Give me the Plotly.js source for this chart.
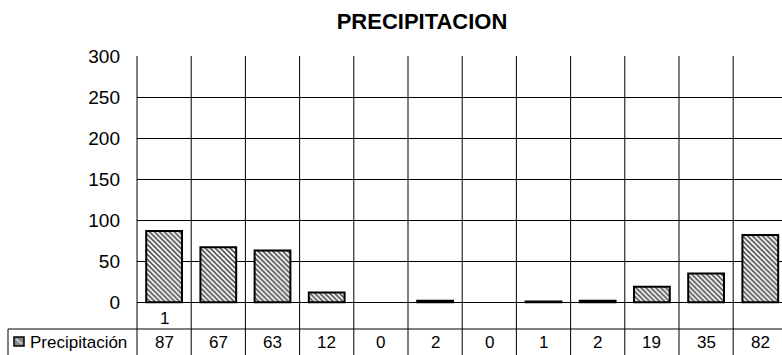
<!DOCTYPE html>
<html>
<head>
<meta charset="utf-8">
<script src="https://cdn.plot.ly/plotly-3.0.1.min.js"></script>
<style>
  html, body { margin: 0; padding: 0; background: #fff; overflow: hidden; }
  #chart { width: 782px; height: 355px; }
</style>
</head>
<body>
<div id="chart"></div>
<script>
// Monthly precipitation, periods 1..12
const periods = [1, 2, 3, 4, 5, 6, 7, 8, 9, 10, 11, 12];
const precipitation = [87, 67, 63, 12, 0, 2, 0, 1, 2, 19, 35, 82];
const seriesName = 'Precipitación';
const chartTitle = 'PRECIPITACION';
const yTicks = [0, 50, 100, 150, 200, 250, 300];
const axisLabelPeriods = [1];
const axisLabelTexts = ['1'];

// page geometry (px)
const W = 782, H = 355;
const ML = 137, MR = 0, MT = 56, MB = 26;
const PW = W - ML - MR, PH = H - MT - MB;
const FONT = 'Arial, "Liberation Sans", sans-serif';

// pixel -> paper helpers for the table frame
const pxX = px => (px - ML) / PW;
const pxY = py => (H - MB - py) / PH;

const tableLeft = pxX(8);
const tableBottom = pxY(H + 10);

const shapes = [];
const line = { color: '#000', width: 1 };

// category separators running down through the data table
for (let i = 0; i < periods.length - 1; i++) {
  shapes.push({ type: 'line', xref: 'x', yref: 'paper',
    x0: periods[i] + 0.5, x1: periods[i] + 0.5, y0: tableBottom, y1: 1, line });
}
// left frame of the plot and of the table
shapes.push({ type: 'line', xref: 'paper', yref: 'paper', x0: 0, x1: 0, y0: tableBottom, y1: 1, line });
shapes.push({ type: 'line', xref: 'paper', yref: 'paper', x0: tableLeft, x1: 1, y0: 0, y1: 0, line });
shapes.push({ type: 'line', xref: 'paper', yref: 'paper', x0: tableLeft, x1: tableLeft, y0: 0, y1: tableBottom, line });
// series key in the table header cell
shapes.push({ type: 'rect', xref: 'paper', yref: 'paper',
  x0: pxX(14), x1: pxX(24), y0: pxY(346), y1: pxY(337),
  fillcolor: '#8a8a8a', line: { color: '#000', width: 1.5 } });
shapes.push({ type: 'line', xref: 'paper', yref: 'paper',
  x0: pxX(16), x1: pxX(22), y0: pxY(339), y1: pxY(344),
  line: { color: '#e0e0e0', width: 1.2 } });

const annotations = [];
// data table values
precipitation.forEach((v, i) => {
  annotations.push({ xref: 'x', yref: 'paper', x: periods[i], y: 0, yshift: -13,
    text: String(v), showarrow: false, xanchor: 'center', yanchor: 'middle',
    font: { family: FONT, size: 17, color: '#000' } });
});
// row header
annotations.push({ xref: 'paper', yref: 'paper', x: pxX(28), y: 0, yshift: -13,
  text: seriesName, showarrow: false, xanchor: 'left', yanchor: 'middle',
  font: { family: FONT, size: 17, color: '#000' } });
// category axis label
axisLabelPeriods.forEach((p, i) => {
  annotations.push({ xref: 'x', yref: 'y', x: p, y: 0, yshift: -5,
    text: axisLabelTexts[i], showarrow: false, xanchor: 'center', yanchor: 'top',
    font: { family: FONT, size: 17, color: '#000' } });
});

const trace = {
  type: 'bar',
  x: periods,
  y: precipitation,
  name: seriesName,
  width: 0.66,
  marker: {
    color: '#fff',
    pattern: { shape: '\\', fgcolor: '#4a4a4a', bgcolor: '#fff', size: 3.5, solidity: 0.45 },
    // empty months get no outline so nothing shows on the baseline
    line: { color: '#000', width: precipitation.map(v => (v === 0 ? 0 : 2)) }
  },
  hoverinfo: 'skip'
};

const layout = {
  width: W, height: H,
  margin: { l: ML, r: MR, t: MT, b: MB, pad: 0 },
  paper_bgcolor: '#fff', plot_bgcolor: '#fff',
  showlegend: false,
  title: {
    text: '<b>' + chartTitle + '</b>',
    xref: 'container', x: 422 / W, xanchor: 'center',
    yref: 'container', y: 1 - 21 / H, yanchor: 'middle',
    font: { family: FONT, size: 22, color: '#000' }
  },
  xaxis: {
    type: 'linear', range: [0.5, 0.5 + PW / 54.2],
    showgrid: false, zeroline: false, showline: false,
    showticklabels: false, ticks: '', fixedrange: true
  },
  yaxis: {
    range: [-32.5, 300],
    tickvals: yTicks, ticktext: yTicks.map(String),
    showgrid: true, gridcolor: '#000', gridwidth: 1,
    zeroline: true, zerolinecolor: '#000', zerolinewidth: 1,
    showline: false, ticks: '', ticklabelstandoff: 16,
    tickfont: { family: FONT, size: 19, color: '#000' }, fixedrange: true
  },
  shapes, annotations
};

Plotly.newPlot('chart', [trace], layout, { staticPlot: true, displayModeBar: false });
</script>
</body>
</html>
